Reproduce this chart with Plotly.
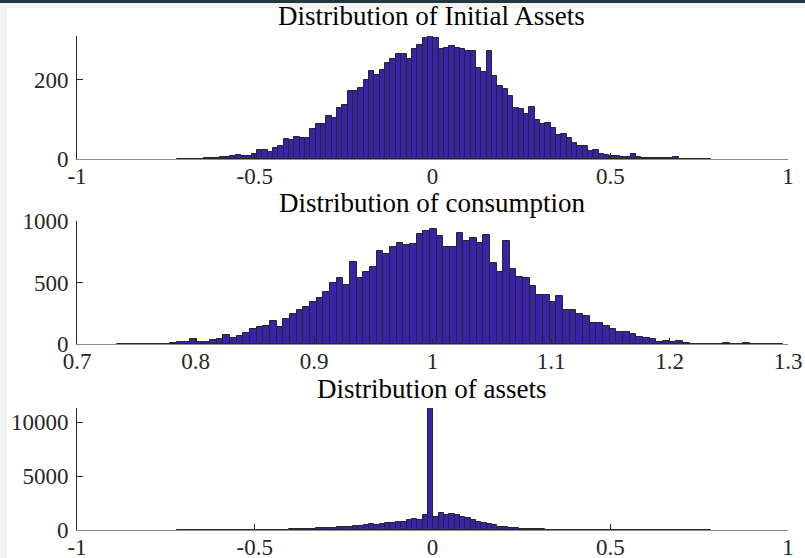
import numpy as np
import plotly.graph_objects as go

# ---- histogram counts (100 equal-width bins each) ----
init_assets = [
    1, 0, 1, 1, 1, 2, 3, 2, 5, 5,
    8, 11, 7, 8, 13, 22, 22, 18, 28, 34,
    51, 49, 56, 54, 54, 75, 89, 89, 108, 103,
    130, 136, 173, 173, 180, 199, 223, 213, 225, 243,
    252, 266, 265, 253, 277, 288, 306, 311, 305, 278,
    280, 285, 281, 279, 273, 274, 231, 221, 273, 210,
    184, 176, 159, 130, 127, 113, 131, 99, 88, 90,
    79, 61, 64, 53, 40, 34, 32, 20, 22, 13,
    11, 8, 8, 4, 4, 13, 5, 3, 3, 2,
    2, 3, 2, 4, 1, 1, 0, 1, 0, 1,
]
consumption = [
    2, 2, 1, 4, 2, 2, 3, 3, 5, 13,
    16, 38, 14, 16, 30, 43, 76, 51, 68, 92,
    125, 141, 146, 187, 138, 203, 241, 274, 304, 344,
    377, 425, 499, 534, 480, 669, 534, 585, 629, 756,
    729, 786, 824, 805, 817, 897, 922, 937, 880, 785,
    789, 906, 840, 862, 824, 883, 662, 585, 838, 611,
    543, 538, 473, 396, 397, 342, 388, 279, 279, 248,
    231, 173, 168, 150, 120, 98, 101, 84, 58, 51,
    40, 19, 27, 13, 25, 5, 3, 3, 2, 2,
    3, 5, 2, 3, 5, 2, 1, 1, 2, 1,
]
assets = [
    3, 4, 5, 5, 6, 7, 8, 9, 10, 12,
    13, 15, 17, 19, 22, 25, 28, 31, 35, 38,
    40, 62, 62, 94, 94, 125, 156, 156, 187, 218,
    250, 250, 312, 343, 343, 437, 562, 437, 530, 624,
    624, 749, 749, 905, 1030, 936, 1404, 11320, 1186, 1560,
    1435, 1466, 1404, 1217, 1154, 936, 749, 624, 593, 468,
    312, 281, 187, 156, 125, 125, 94, 62, 62, 45,
    38, 32, 26, 22, 18, 15, 13, 11, 10, 9,
    8, 7, 6, 6, 5, 5, 4, 4, 3, 3,
    3, 2, 2, 2, 2, 1, 1, 1, 1, 1,
]

# data range covered by the bins of each histogram
init_lim = (-0.719, 0.783)
cons_lim = (0.7335, 1.2958)
asset_lim = (-0.719, 0.783)

titles = ["Distribution of Initial Assets",
          "Distribution of consumption",
          "Distribution of assets"]

asset_xticks = [-1, -0.5, 0, 0.5, 1]
asset_xtext = ["-1", "-0.5", "0", "0.5", "1"]
cons_xticks = [0.7, 0.8, 0.9, 1.0, 1.1, 1.2, 1.3]
cons_xtext = ["0.7", "0.8", "0.9", "1", "1.1", "1.2", "1.3"]
yticks_1 = [0, 200]
yticks_2 = [0, 500, 1000]
yticks_3 = [0, 5000, 10000]

# ---- styling ----
W, H = 805, 558
FACE = "#3a22a9"
EDGE = "#262626"
AXC = "#262626"
FONT = "Liberation Serif"
TICK_FS = 23
TITLE_FS = 27


def px_x(p):
    return p / W


def px_y(p):
    return 1 - p / H


def bars(counts, lim, xa, ya):
    edges = np.linspace(lim[0], lim[1], len(counts) + 1)
    centers = 0.5 * (edges[:-1] + edges[1:])
    return go.Bar(
        x=centers, y=counts, width=edges[1] - edges[0],
        marker=dict(color=FACE, line=dict(color=EDGE, width=1)),
        xaxis=xa, yaxis=ya, showlegend=False, hoverinfo="x+y",
    )


fig = go.Figure()
fig.add_trace(bars(init_assets, init_lim, "x", "y"))
fig.add_trace(bars(consumption, cons_lim, "x2", "y2"))
fig.add_trace(bars(assets, asset_lim, "x3", "y3"))

xdom = [px_x(77), px_x(788)]
panels = [  # (top px, bottom px)
    (36, 159),
    (221, 344),
    (408, 530),
]


def xaxis(rng, vals, text, anchor):
    return dict(domain=xdom, range=rng, tickvals=vals, ticktext=text,
                ticks="inside", ticklen=6, tickcolor=AXC, tickwidth=1,
                showline=True, linecolor="#8e8e8e", linewidth=1,
                showgrid=False, zeroline=False, anchor=anchor,
                automargin=False, ticklabelstandoff=-4,
                tickfont=dict(family=FONT, size=TICK_FS, color=AXC),
                fixedrange=True)


def yaxis(dom, rng, vals, anchor):
    return dict(domain=dom, range=rng, tickvals=vals,
                ticktext=[str(v) for v in vals],
                ticks="inside", ticklen=6, tickcolor=AXC, tickwidth=1,
                showline=True, linecolor=AXC, linewidth=1,
                showgrid=False, zeroline=False, anchor=anchor,
                automargin=False, ticklabelstandoff=3,
                tickfont=dict(family=FONT, size=TICK_FS, color=AXC),
                fixedrange=True)


doms = [[px_y(b), px_y(t)] for t, b in panels]

fig.update_layout(
    width=W, height=H,
    margin=dict(l=0, r=0, t=0, b=0, pad=0, autoexpand=False),
    paper_bgcolor="white", plot_bgcolor="rgba(0,0,0,0)",
    bargap=0,
    xaxis=xaxis([-1, 1], asset_xticks, asset_xtext, "y"),
    yaxis=yaxis(doms[0], [0, max(init_assets)], yticks_1, "x"),
    xaxis2=xaxis([0.7, 1.3], cons_xticks, cons_xtext, "y2"),
    yaxis2=yaxis(doms[1], [0, 1000], yticks_2, "x2"),
    xaxis3=xaxis([-1, 1], asset_xticks, asset_xtext, "y3"),
    yaxis3=yaxis(doms[2], [0, max(assets)], yticks_3, "x3"),
)

# panel titles
title_y = [16, 203, 389]
for txt, ty in zip(titles, title_y):
    fig.add_annotation(
        text=txt, xref="paper", yref="paper",
        x=px_x(432), y=px_y(ty), xanchor="center", yanchor="middle",
        showarrow=False,
        font=dict(family=FONT, size=TITLE_FS, color="black"),
    )

# window frame: light margin on the left/top and a dark strip along the top
fig.add_shape(type="rect", xref="paper", yref="paper", layer="below",
              x0=0, x1=px_x(7), y0=0, y1=1,
              fillcolor="#f1f1f1", line=dict(width=0))
fig.add_shape(type="rect", xref="paper", yref="paper", layer="below",
              x0=0, x1=1, y0=px_y(8), y1=1,
              fillcolor="#f1f1f1", line=dict(width=0))
fig.add_shape(type="rect", xref="paper", yref="paper", layer="below",
              x0=0, x1=1, y0=px_y(3), y1=1,
              fillcolor="#23383e", line=dict(width=0))

# the figure fills the page exactly
fig.write_html(
    "out.html",
    post_script="document.body.style.margin='0';"
                "document.body.style.overflow='hidden';",
)
